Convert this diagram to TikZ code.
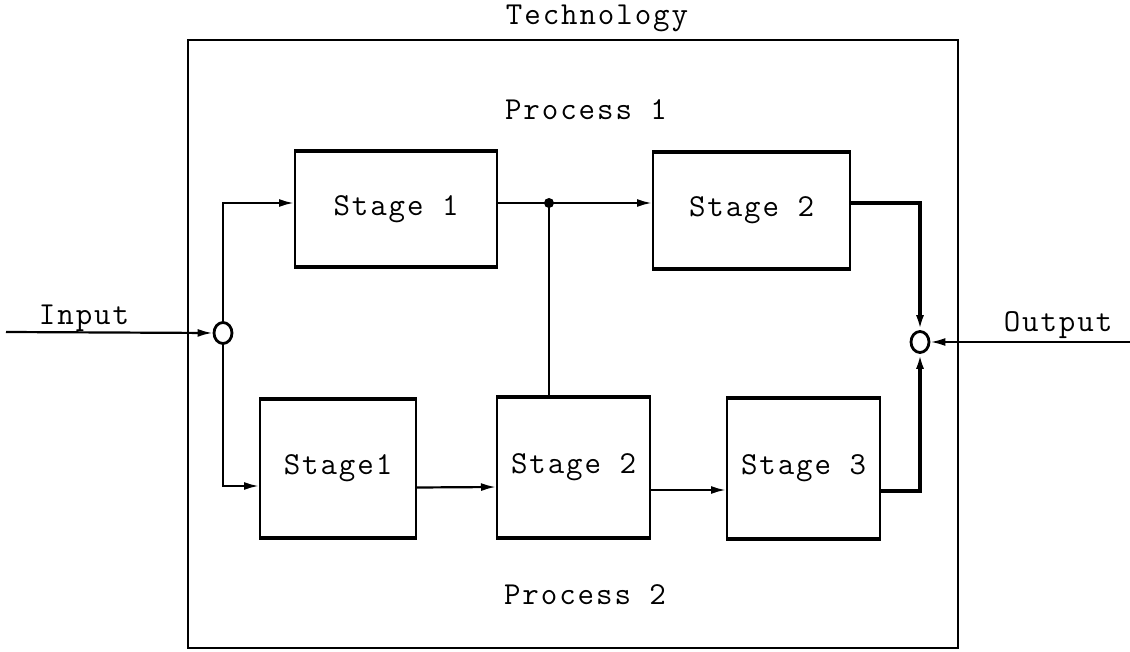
\documentclass[tikz,border=0pt]{standalone}
\usepackage{fontspec}
\usetikzlibrary{arrows.meta,calc,shapes.geometric}
\newfontfamily\typewriter{Latin Modern Mono}[LetterSpace=6]
\newcommand{\typefont}{\typewriter\fontsize{32}{38}\selectfont}
\tikzset{
  lbl/.style={font=\typefont, inner sep=0pt, anchor=base},
  stagebox/.style={draw, line width=2pt, inner sep=0pt, font=\typefont},
  junction/.style={draw, ellipse, line width=2.8pt, minimum width=18pt, minimum height=21pt, inner sep=0pt},
  conn/.style={line width=2.2pt, -{Latex[length=15pt,width=8pt]}},
  thickconn/.style={line width=4pt, -{Latex[length=15pt,width=8pt]}},
  plain/.style={line width=2pt},
}
% heavier top and bottom edges of a stage box
\newcommand{\edges}[1]{%
  \draw[line width=3.5pt] (#1.north west) -- (#1.north east);
  \draw[line width=3.5pt] (#1.south west) -- (#1.south east);}
\begin{document}
\begin{tikzpicture}[x=1pt,y=-1pt]
\useasboundingbox (0,0) rectangle (1130,652);

% enclosing frame and titles
\draw[line width=2.4pt] (188,40) rectangle (958,648);
\node[lbl] (tech) at (597,25) {Technology};
\node[lbl] (p1) at (586,120) {Process 1};
\node[lbl] (p2) at (585,604) {Process 2};

% process 1 stages
\node[stagebox, minimum width=202pt, minimum height=114pt] (s1) at (396,209) {Stage 1};
\node[stagebox, minimum width=197pt, minimum height=115pt] (s2) at (751.5,210.5) {Stage 2};
\edges{s1}
\edges{s2}

% process 2 stages
\node[stagebox, minimum width=156pt, minimum height=137pt] (b1) at (338,468.5) {Stage1};
\node[stagebox, minimum width=153pt, minimum height=139pt] (b2) at (573.5,467.5) {Stage 2};
\node[stagebox, minimum width=153pt, minimum height=139pt] (b3) at (803.5,468.5) {Stage 3};
\edges{b1}
\edges{b2}
\edges{b3}

% input and output junctions
\node[junction] (jin) at (223,333) {};
\node[junction] (jout) at (920,342) {};
\coordinate (inend) at (6,332);
\coordinate (outend) at (1130,342);
\node[lbl] (inlbl) at (84,325) {Input};
\node[lbl] (outlbl) at (1058,332) {Output};

% input feed and split
\draw[conn] (inend) -- (jin.west);
\draw[conn] (jin.north) |- ([yshift=6pt]s1.west);
\draw[conn] (jin.south) |- ([yshift=-17.5pt]b1.west);

% process 1 flow
\coordinate (tap) at (549,203);
\draw[conn] ([yshift=6pt]s1.east) -- ([yshift=7.5pt]s2.west);
\fill (tap) circle (5pt);
\draw[plain] (tap) -- (tap |- b2.north);
\draw[thickconn] ([yshift=7.5pt]s2.east) -| (jout.north);

% process 2 flow
\draw[conn] ([yshift=-19pt]b1.east) -- ([yshift=-19.5pt]b2.west);
\draw[conn] ([yshift=-22.5pt]b2.east) -- ([yshift=-21.5pt]b3.west);
\draw[thickconn] ([yshift=-22.5pt]b3.east) -| (jout.south);

% output
\draw[conn] (outend) -- (jout.east);
\end{tikzpicture}
\end{document}
